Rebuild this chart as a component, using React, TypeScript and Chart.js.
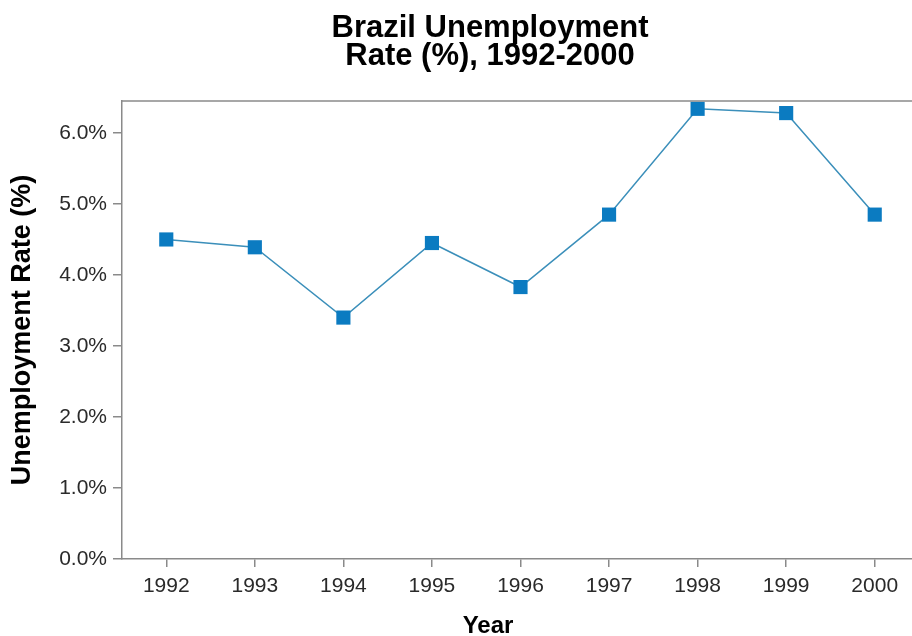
import React, { useEffect, useRef } from "react";
import { Chart, registerables } from "chart.js";

Chart.register(...registerables);

const TITLE_LINES = ["Brazil Unemployment", "Rate (%), 1992-2000"];
const YEARS = ["1992", "1993", "1994", "1995", "1996", "1997", "1998", "1999", "2000"];
const RATES = [4.5, 4.39, 3.4, 4.45, 3.83, 4.85, 6.34, 6.28, 4.85];
const Y_TITLE = "Unemployment Rate (%)";
const X_TITLE = "Year";

const FONT = '"Liberation Sans", Arial, Helvetica, sans-serif';
const AXIS_GRAY = "#8a8a8a";
const CANVAS_W = 929;
const CANVAS_H = 636;

const titlePlugin = {
  id: "textTitles",
  afterDraw(chart: any) {
    const ctx = chart.ctx;
    ctx.save();
    ctx.fillStyle = "#000";
    ctx.textAlign = "center";
    ctx.textBaseline = "alphabetic";
    ctx.font = `bold 31px ${FONT}`;
    TITLE_LINES.forEach((t, i) => ctx.fillText(t, 490, 37 + i * 28));
    ctx.font = `bold 24px ${FONT}`;
    ctx.fillText(X_TITLE, 488, 633);
    ctx.restore();
  },
};

const topBorderPlugin = {
  id: "topBorder",
  afterDraw(chart: any) {
    const { ctx, chartArea } = chart;
    ctx.save();
    ctx.strokeStyle = AXIS_GRAY;
    ctx.lineWidth = 1.5;
    ctx.beginPath();
    ctx.moveTo(chartArea.left, chartArea.top);
    ctx.lineTo(chartArea.right, chartArea.top);
    ctx.lineTo(chartArea.right, chartArea.bottom);
    ctx.stroke();
    ctx.restore();
  },
};

export default function App() {
  const ref = useRef<HTMLCanvasElement | null>(null);

  useEffect(() => {
    document.body.style.overflow = "hidden";
    const canvas = ref.current;
    if (!canvas) return;
    const chart = new Chart(canvas, {
      type: "line",
      data: {
        labels: YEARS,
        datasets: [
          {
            data: RATES,
            borderColor: "#3b8fba",
            borderWidth: 1.5,
            backgroundColor: "#0b7bc1",
            pointStyle: "rect",
            pointRadius: 10,
            pointHoverRadius: 10,
            pointBorderWidth: 0,
            pointBackgroundColor: "#0b7bc1",
            tension: 0,
            fill: false,
          },
        ],
      },
      options: {
        animation: false,
        responsive: false,
        devicePixelRatio: 1,
        layout: { padding: { top: 101, left: 0, right: 0, bottom: 0 } },
        plugins: {
          legend: { display: false },
          title: { display: false },
          tooltip: { enabled: false },
        },
        scales: {
          x: {
            type: "category",
            offset: true,
            afterFit: (scale: any) => {
              scale.height = 77;
            },
            grid: {
              display: true,
              offset: false,
              drawOnChartArea: false,
              drawTicks: true,
              tickLength: 8,
              color: AXIS_GRAY,
              lineWidth: 1.5,
            },
            border: { display: true, color: AXIS_GRAY, width: 1.5 },
            ticks: {
              color: "#2a2a2a",
              font: { family: FONT, size: 21 },
              padding: 7,
              maxRotation: 0,
              autoSkip: false,
            },
            title: { display: false, text: X_TITLE },
          },
          y: {
            type: "linear",
            min: 0,
            max: 6.45,
            afterFit: (scale: any) => {
              scale.width = 122;
            },
            grid: {
              display: true,
              drawOnChartArea: false,
              drawTicks: true,
              tickLength: 9,
              color: AXIS_GRAY,
              lineWidth: 1.5,
            },
            border: { display: true, color: AXIS_GRAY, width: 1.5 },
            ticks: {
              stepSize: 1,
              includeBounds: false,
              color: "#2a2a2a",
              font: { family: FONT, size: 21 },
              padding: 6,
              callback: (v: any) => Number(v).toFixed(1) + "%",
            },
            title: {
              display: true,
              text: Y_TITLE,
              color: "#000",
              font: { family: FONT, size: 27, weight: "bold", lineHeight: 1 },
              padding: { top: 9, bottom: 0 },
            },
          },
        },
      },
      plugins: [titlePlugin, topBorderPlugin],
    });
    return () => chart.destroy();
  }, []);

  return (
    <div style={{ position: "fixed", left: 0, top: 0, width: CANVAS_W, height: CANVAS_H, background: "#fff" }}>
      <canvas ref={ref} width={CANVAS_W} height={CANVAS_H} style={{ display: "block", width: CANVAS_W, height: CANVAS_H }} />
    </div>
  );
}
